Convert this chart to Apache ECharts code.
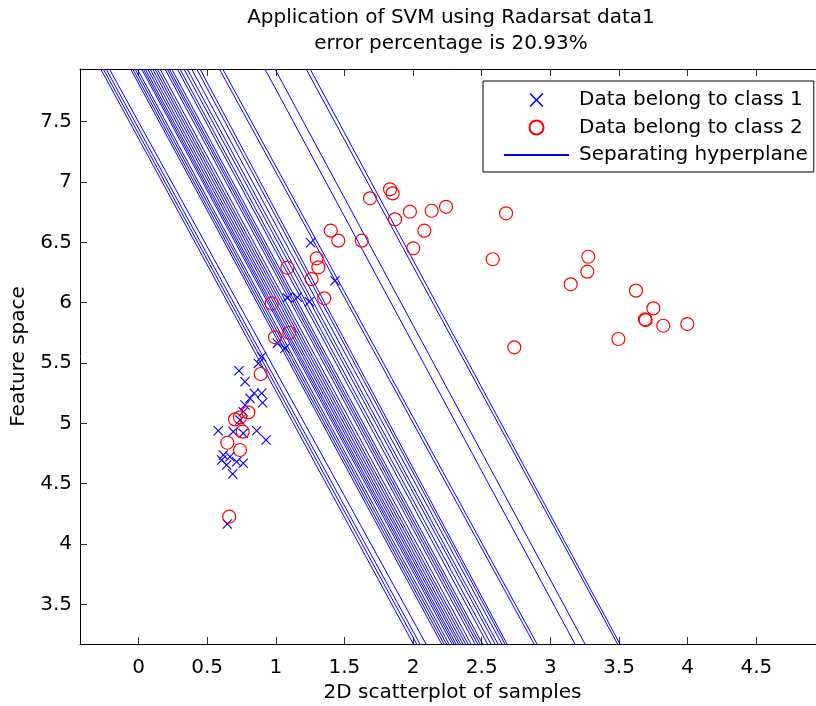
<!DOCTYPE html>
<html>
<head>
<meta charset="utf-8">
<script src="https://cdn.jsdelivr.net/npm/echarts@6/dist/echarts.min.js"></script>
<style>
  html, body { margin: 0; padding: 0; background: #fff; }
  #chart { width: 816px; height: 706px; }
</style>
</head>
<body>
<div id="chart"></div>
<script>
// Axis limits of the feature space
const xMin = -0.426, xMax = 5.0;
const yMin = 3.171, yMax = 7.937;
const xTicks = [0, 0.5, 1, 1.5, 2, 2.5, 3, 3.5, 4, 4.5];
const yTicks = [3.5, 4, 4.5, 5, 5.5, 6, 6.5, 7, 7.5];

// Class 1 samples
const class1X = [1.254, 1.431, 1.157, 1.244, 1.011, 1.067, 0.897, 0.873, 0.732, 0.776,
  0.843, 0.897, 0.812, 0.904, 0.776, 0.763, 0.739, 0.581, 0.690, 0.763,
  0.861, 0.929, 0.618, 0.666, 0.606, 0.715, 0.642, 0.763, 0.686, 0.647, 1.084];
const class1Y = [6.497, 6.182, 6.045, 6.008, 5.663, 5.622, 5.552, 5.497, 5.436, 5.345,
  5.249, 5.249, 5.207, 5.171, 5.152, 5.096, 5.027, 4.939, 4.931, 4.917,
  4.939, 4.862, 4.738, 4.723, 4.696, 4.682, 4.655, 4.669, 4.580, 4.166, 6.040];

// Class 2 samples
const class2X = [1.400, 1.455, 1.084, 1.298, 1.310, 1.261, 1.353, 0.970, 0.994, 1.098,
  0.890, 0.800, 0.703, 0.739, 0.759, 0.647, 0.739, 0.661, 1.832, 1.851,
  1.686, 1.977, 2.135, 2.240, 1.868, 2.082, 2.001, 2.677, 2.580, 1.626,
  3.276, 3.269, 3.148, 3.623, 3.750, 3.689, 3.694, 3.822, 3.997, 3.495, 2.737];
const class2Y = [6.597, 6.514, 6.290, 6.368, 6.293, 6.196, 6.036, 5.995, 5.713, 5.751,
  5.409, 5.091, 5.033, 5.050, 4.931, 4.839, 4.779, 4.226, 6.940, 6.906,
  6.865, 6.754, 6.762, 6.795, 6.691, 6.597, 6.451, 6.741, 6.360, 6.514,
  6.381, 6.257, 6.152, 6.100, 5.953, 5.862, 5.856, 5.809, 5.823, 5.699, 5.630];

// Separating hyperplanes: x where each crosses the top (yMax) and bottom (yMin) limits
const hyperplaneTopX = [-0.275, -0.256, -0.236, -0.212, -0.057, -0.042, -0.025, -0.009,
  0.023, 0.035, 0.049, 0.067, 0.084, 0.103, 0.120, 0.137, 0.157, 0.193, 0.210, 0.224,
  0.242, 0.283, 0.302, 0.331, 0.355, 0.387, 0.424, 0.448, 0.589, 0.613, 0.921, 0.994,
  1.221, 1.250];
const hyperplaneBottomX = [2.002, 2.026, 2.050, 2.094, 2.208, 2.225, 2.243, 2.261,
  2.283, 2.298, 2.312, 2.330, 2.345, 2.363, 2.382, 2.400, 2.422, 2.451, 2.470, 2.488,
  2.506, 2.542, 2.567, 2.597, 2.618, 2.647, 2.669, 2.684, 2.881, 2.903, 3.179, 3.252,
  3.489, 3.507];

const NAME1 = 'Data belong to class 1';
const NAME2 = 'Data belong to class 2';
const NAME3 = 'Separating hyperplane';
const FONT = 'DejaVu Sans';
const FS = 20;
const BLUE = '#0000ff';
const RED = '#ff0000';

// thin "x" marker drawn as a filled outline
const crossPath = 'path://M0,0.8L0.8,0L5,4.2L9.2,0L10,0.8L5.8,5L10,9.2L9.2,10L5,5.8L0.8,10L0,9.2L4.2,5Z';

const zip = (xs, ys) => xs.map((x, i) => [x, ys[i]]);

const lineSeries = hyperplaneTopX.map((tx, i) => ({
  name: NAME3,
  type: 'line',
  symbol: 'none',
  silent: true,
  z: 1,
  lineStyle: { color: BLUE, width: 1 },
  data: [[tx, yMax], [hyperplaneBottomX[i], yMin]]
}));

const axisCommon = {
  type: 'value',
  splitLine: { show: false },
  axisLine: { show: true, onZero: false, lineStyle: { color: '#000', width: 1 } },
  axisTick: { show: true, inside: true, length: 7, lineStyle: { color: '#333', width: 1 } }
};

const option = {
  animation: false,
  backgroundColor: '#fff',
  textStyle: { fontFamily: FONT },
  title: {
    text: 'Application of SVM using Radarsat data1\nerror percentage is 20.93%',
    left: 446,
    textAlign: 'center',
    top: 0,
    textStyle: { fontFamily: FONT, fontSize: FS, fontWeight: 'normal', color: '#000', lineHeight: 26 }
  },
  grid: { left: 80, top: 69, width: 745, height: 575, containLabel: false, outerBoundsMode: 'none' },
  legend: {
    orient: 'vertical',
    left: 483,
    top: 81,
    padding: [9, 6, 7, 20],
    itemWidth: 65,
    itemHeight: 14,
    itemGap: 7.5,
    backgroundColor: '#fff',
    borderColor: '#000',
    borderWidth: 1,
    borderRadius: 0,
    textStyle: { fontFamily: FONT, fontSize: FS, color: '#000', lineHeight: 20, padding: [0, 0, 0, 5] },
    data: [
      { name: NAME1 },
      { name: NAME2 },
      { name: NAME3, itemStyle: { opacity: 0 } }
    ]
  },
  xAxis: [
    Object.assign({}, axisCommon, {
      min: xMin, max: xMax, position: 'bottom',
      axisTick: Object.assign({}, axisCommon.axisTick, { customValues: xTicks }),
      axisLabel: { customValues: xTicks, fontSize: FS, color: '#000', margin: 14, fontFamily: FONT },
      name: '2D scatterplot of samples',
      nameLocation: 'middle',
      nameGap: 38,
      nameTextStyle: { fontFamily: FONT, fontSize: FS, color: '#000' }
    }),
    Object.assign({}, axisCommon, {
      min: xMin, max: xMax, position: 'top',
      axisTick: Object.assign({}, axisCommon.axisTick, { customValues: xTicks }),
      axisLabel: { show: false }
    })
  ],
  yAxis: [
    Object.assign({}, axisCommon, {
      min: yMin, max: yMax, position: 'left',
      axisTick: Object.assign({}, axisCommon.axisTick, { customValues: yTicks }),
      axisLabel: { customValues: yTicks, fontSize: FS, color: '#000', margin: 8, fontFamily: FONT },
      name: 'Feature space',
      nameLocation: 'middle',
      nameGap: 50,
      nameRotate: 90,
      nameTextStyle: { fontFamily: FONT, fontSize: FS, color: '#000' }
    })
  ],
  series: lineSeries.concat([
    {
      name: NAME1,
      type: 'scatter',
      symbol: crossPath,
      symbolSize: 10,
      symbolKeepAspect: true,
      z: 3,
      itemStyle: { color: BLUE, opacity: 1 },
      data: zip(class1X, class1Y)
    },
    {
      name: NAME2,
      type: 'scatter',
      symbol: 'circle',
      symbolSize: 13,
      z: 4,
      itemStyle: { color: 'rgba(0,0,0,0)', borderColor: RED, borderWidth: 1.2, opacity: 1 },
      data: zip(class2X, class2Y)
    }
  ])
};

const chart = echarts.init(document.getElementById('chart'), null, { renderer: 'canvas' });
chart.setOption(option);
</script>
</body>
</html>
